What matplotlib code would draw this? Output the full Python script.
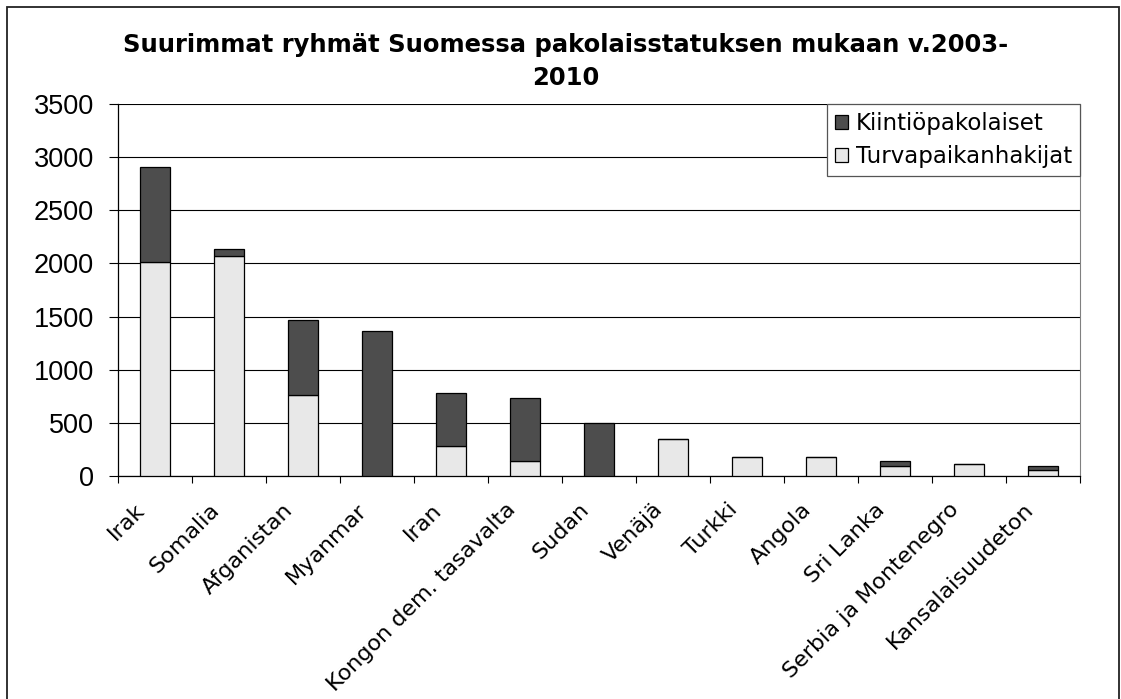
import numpy as np
import matplotlib
matplotlib.use('Agg')
import matplotlib.pyplot as plt
import matplotlib.transforms as mtransforms
from matplotlib.patches import Rectangle

# data
maat = ['Irak', 'Somalia', 'Afganistan', 'Myanmar', 'Iran', 'Kongon dem. tasavalta',
        'Sudan', 'Venäjä', 'Turkki', 'Angola', 'Sri Lanka', 'Serbia ja Montenegro',
        'Kansalaisuudeton']
turvapaikanhakijat = [2015, 2070, 765, 0, 280, 145, 0, 350, 180, 180, 95, 110, 60]
kiintiopakolaiset = [890, 65, 705, 1365, 500, 590, 500, 0, 0, 0, 50, 0, 35]

fig = plt.figure(figsize=(11.21, 6.99), dpi=100)
ax = fig.add_axes([118 / 1121, 1 - 476 / 699, (1080 - 118) / 1121, (476 - 104) / 699])

x = np.arange(len(maat))
w = 0.41
ax.bar(x, turvapaikanhakijat, w, color='#e8e8e8', edgecolor='black', linewidth=0.9,
       label='Turvapaikanhakijat', zorder=3)
ax.bar(x, kiintiopakolaiset, w, bottom=turvapaikanhakijat, color='#4d4d4d',
       edgecolor='black', linewidth=0.9, label='Kiintiöpakolaiset', zorder=3)

ax.set_xlim(-0.5, len(maat) - 0.5)
ax.set_ylim(0, 3500)
ax.set_yticks(np.arange(0, 3501, 500))
ax.yaxis.grid(True, color='black', linewidth=0.8, zorder=0)
ax.set_axisbelow(True)

for lab in ax.get_yticklabels():
    lab.set_fontfamily('Liberation Sans')
    lab.set_fontsize(19.5)
ax.tick_params(axis='y', direction='out', length=6.5, width=0.8, pad=11)

# category labels at centres, tick marks between categories
ax.set_xticks(x)
ax.set_xticklabels(maat, rotation=45, ha='right', va='center', rotation_mode='anchor',
                   fontsize=16, fontfamily='DejaVu Sans')
ax.tick_params(axis='x', which='major', length=0, pad=22)
ax.set_xticks(np.arange(-0.5, len(maat), 1), minor=True)
ax.tick_params(axis='x', which='minor', direction='out', length=5, width=0.8)
shift = mtransforms.ScaledTranslation(-13 / 100, 0, fig.dpi_scale_trans)
for lab in ax.get_xticklabels():
    lab.set_transform(lab.get_transform() + shift)

for s in ['left', 'bottom']:
    ax.spines[s].set_color('black')
    ax.spines[s].set_linewidth(0.9)
ax.spines['right'].set_color('#808080')
ax.spines['top'].set_visible(False)

h, l = ax.get_legend_handles_labels()
leg = ax.legend(h[::-1], l[::-1], loc='upper right', bbox_to_anchor=(1.0, 1.0),
                borderaxespad=0, fancybox=False, framealpha=1, edgecolor='#555555',
                prop={'family': 'DejaVu Sans', 'size': 16.5}, handlelength=0.55,
                handleheight=0.55, handletextpad=0.35, labelspacing=0.45,
                borderpad=0.35)
leg.get_frame().set_linewidth(0.9)
leg.set_zorder(5)

fig.text(0.505, 0.912, 'Suurimmat ryhmät Suomessa pakolaisstatuksen mukaan v.2003-\n2010',
         ha='center', va='center', fontsize=17.5, fontweight='bold',
         fontfamily='DejaVu Sans', linespacing=1.45)

# chart border (bottom edge runs off the picture)
fig.patches.append(Rectangle((7 / 1121, -0.02), (1119 - 7) / 1121, 1 - 7 / 699 + 0.02,
                             transform=fig.transFigure, fill=False,
                             edgecolor='#222222', linewidth=1.3))

fig.savefig('out.png', dpi=100)
